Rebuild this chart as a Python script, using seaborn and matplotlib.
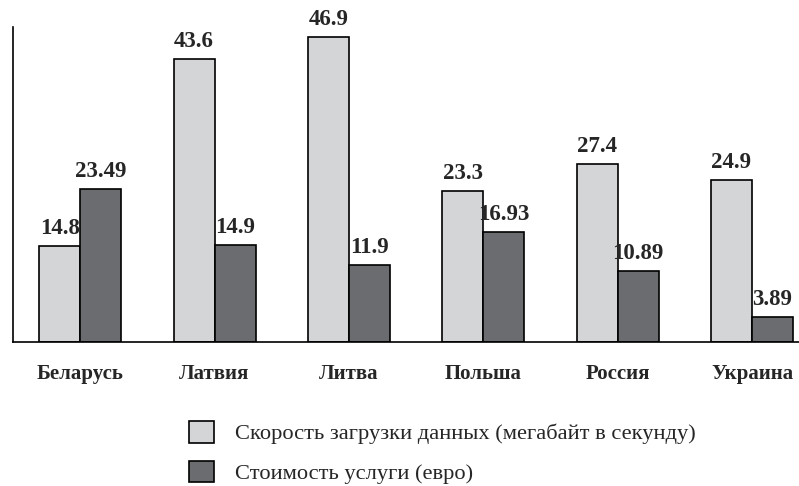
import matplotlib
matplotlib.use("Agg")
import matplotlib.pyplot as plt
import seaborn as sns
import pandas as pd

countries = ["Беларусь", "Латвия", "Литва", "Польша", "Россия", "Украина"]
speed = [14.8, 43.6, 46.9, 23.3, 27.4, 24.9]
cost = [23.49, 14.9, 11.9, 16.93, 10.89, 3.89]
series = ["Скорость загрузки данных (мегабайт в секунду)", "Стоимость услуги (евро)"]
colors = ["#d4d5d7", "#6b6c70"]

df = pd.DataFrame({
    "country": countries * 2,
    "value": speed + cost,
    "series": [series[0]] * len(countries) + [series[1]] * len(countries),
})

sns.set_theme(style="white")
plt.rcParams["font.family"] = ["Liberation Serif", "DejaVu Serif"]

fig = plt.figure(figsize=(7.99, 4.86), dpi=100)
ax = fig.add_axes([13 / 799, 1 - 342 / 486, 1 - 13 / 799, (342 - 27) / 486])

sns.barplot(data=df, x="country", y="value", hue="series", palette=colors,
            width=0.61, edgecolor="black", linewidth=1.2, ax=ax, legend=True,
            saturation=1)

ax.set_ylim(0, 48.5)
ax.set_xlim(-0.5, 5.35)
ax.set_xlabel("")
ax.set_ylabel("")
ax.set_yticks([])
ax.tick_params(axis="x", length=0, pad=16)
for lbl in ax.get_xticklabels():
    lbl.set_fontweight("bold")
    lbl.set_fontsize(15)
for s in ["top", "right"]:
    ax.spines[s].set_visible(False)
for s in ["left", "bottom"]:
    ax.spines[s].set_color("black")
    ax.spines[s].set_linewidth(1.2)

for cont, vals in zip(ax.containers, [speed, cost]):
    ax.bar_label(cont, labels=[str(v) for v in vals], padding=5,
                 fontsize=16.5, fontweight="bold")

handles, labels = ax.get_legend_handles_labels()
ax.get_legend().remove()
fig.legend(handles, labels, loc="upper left", bbox_to_anchor=(180 / 799, 1 - 412 / 486),
           frameon=False, fontsize=16.2, handlelength=1.1, handleheight=1.1,
           handletextpad=0.95, labelspacing=0.72, borderaxespad=0)

fig.savefig("out.png", dpi=100)
